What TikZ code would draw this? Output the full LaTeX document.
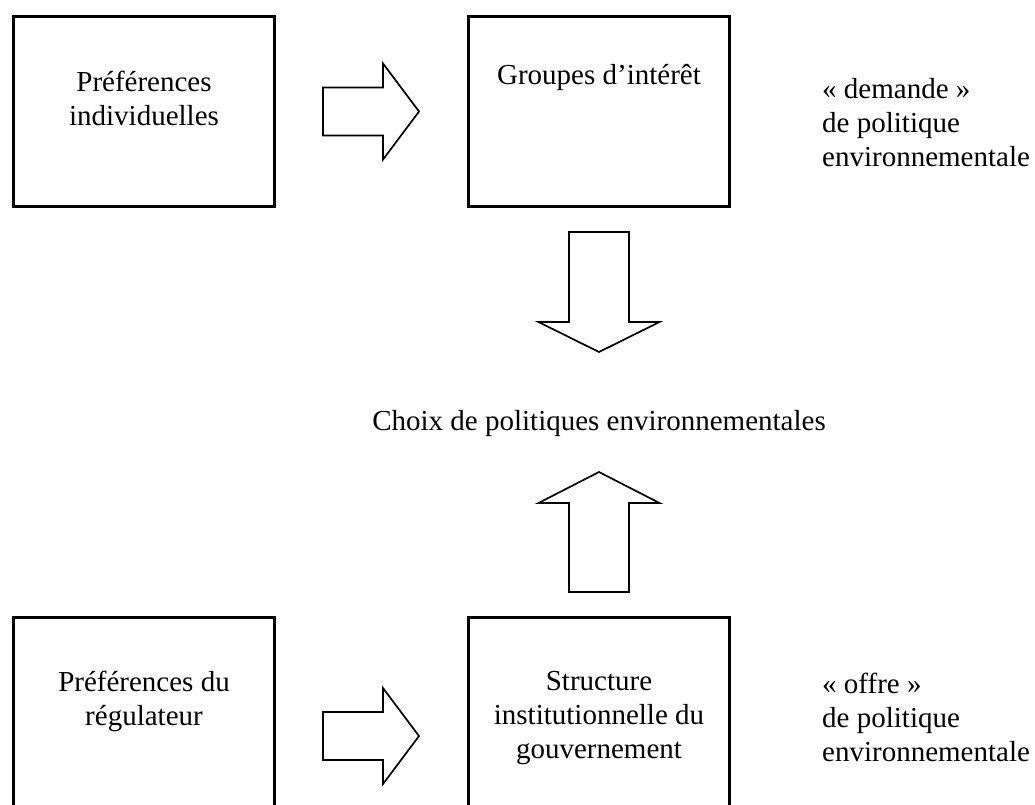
\documentclass[tikz,border=0pt]{standalone}
\usepackage{fontspec}
\setmainfont{Liberation Serif}
\usetikzlibrary{positioning,calc}

\tikzset{
  box/.style={draw, line width=2.8pt, minimum width=261pt, minimum height=190pt, inner sep=0pt, outer sep=0pt},
  boxtext/.style={align=center, inner sep=0pt, font=\fontsize{29}{34}\selectfont},
  sidetext/.style={align=left, anchor=north west, inner sep=0pt, font=\fontsize{29}{34}\selectfont},
  blockarrow/.style={draw, line width=1.7pt, line join=miter},
}

\begin{document}
\begin{tikzpicture}[x=1pt,y=-1pt]
    \useasboundingbox (0,0) rectangle (1035,804);
    \clip (0,0) rectangle (1035,804);

    % demande
    \node[box] (pi) at (144,111.5) {};
    \node[box, right=194pt of pi] (gi) {};
    \node[boxtext, below=54pt of pi.north] (pitext) {Préférences\\individuelles};
    \node[boxtext, below=48pt of gi.north] (gitext) {Groupes d’intérêt};
    \node[sidetext] (demande) at ($(gi.north east)+(92.5,61.5)$) {« demande »\\de politique\\environnementale};

    % offre
    \node[box, below=411pt of pi] (pr) {};
    \node[box, right=194pt of pr] (si) {};
    \node[boxtext, below=53.5pt of pr.north] (prtext) {Préférences du\\régulateur};
    \node[boxtext, below=53.5pt of si.north] (sitext) {Structure\\institutionnelle du\\gouvernement};
    \node[sidetext] (offre) at ($(si.north east)+(92.5,55)$) {« offre »\\de politique\\environnementale};

    \node[boxtext, anchor=base] (choix) at (599,430) {Choix de politiques environnementales};

    % fleches
    \coordinate (a1) at ($(pi.east)+(48.5,0)$);
    \coordinate (a2) at ($(pr.east)+(48.5,23.5)$);
    \coordinate (a3) at ($(gi.south)+(0,25.5)$);
    \coordinate (a4) at ($(si.north)+(0,-25.5)$);
    \draw[blockarrow] (a1) ++(0,-24) -- ++(60,0) -- ++(0,-24) -- ++(36,48) -- ++(-36,48) -- ++(0,-24) -- ++(-60,0) -- cycle;
    \draw[blockarrow] (a2) ++(0,-24) -- ++(60,0) -- ++(0,-24) -- ++(36,48) -- ++(-36,48) -- ++(0,-24) -- ++(-60,0) -- cycle;
    \draw[blockarrow] (a3) ++(-30,0) -- ++(0,90) -- ++(-30.5,0) -- ++(60.5,30) -- ++(60.5,-30) -- ++(-30.5,0) -- ++(0,-90) -- cycle;
    \draw[blockarrow] (a4) ++(-30,0) -- ++(0,-89) -- ++(-30.5,0) -- ++(60.5,-31) -- ++(60.5,31) -- ++(-30.5,0) -- ++(0,89) -- cycle;
\end{tikzpicture}
\end{document}
